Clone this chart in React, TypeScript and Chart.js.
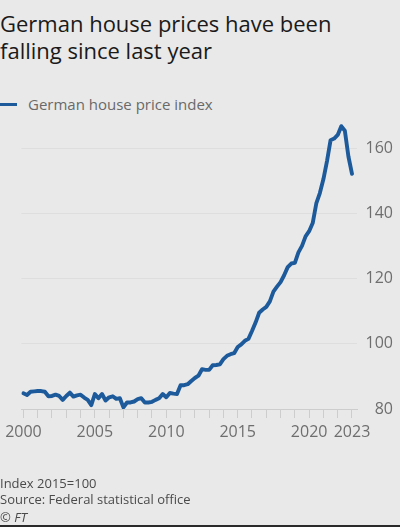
import React, { useEffect, useRef } from "react";
import { Chart, registerables } from "chart.js";

Chart.register(...registerables);

const startYear = 2000;
// Quarterly German house price index (2015=100), 2000 Q1 .. 2023 Q1
const houseIndex = [
  84.8, 84.3, 85.3, 85.4,
  85.5, 85.5, 85.3, 83.9,
  84.0, 84.4, 84.0, 82.8,
  84.0, 85.0, 83.8, 84.2,
  84.4, 83.5, 82.8, 81.2,
  84.6, 83.3, 84.6, 82.6,
  83.6, 83.9, 83.1, 83.3,
  80.5, 82.0, 82.0, 82.3,
  83.0, 83.3, 82.0, 82.0,
  82.2, 82.8, 83.3, 84.6,
  83.6, 84.9, 84.7, 84.6,
  87.3, 87.3, 87.6, 88.6,
  89.5, 90.2, 92.2, 92.0,
  92.0, 93.4, 93.5, 93.7,
  95.3, 96.3, 96.8, 97.1,
  99.0, 99.8, 100.9, 101.5,
  103.9, 106.5, 109.5, 110.5,
  111.3, 113.0, 116.0, 117.5,
  118.9, 121.0, 123.5, 124.6,
  124.8, 128.0, 130.0, 132.9,
  134.5, 137.0, 143.0, 146.2,
  150.5, 156.0, 162.4, 162.9,
  164.0, 166.7, 165.3, 157.4,
  152.1,
];
const yearTicks = [
  2000, 2001, 2002, 2003, 2004, 2005, 2006, 2007, 2008, 2009, 2010, 2011,
  2012, 2013, 2014, 2015, 2016, 2017, 2018, 2019, 2020, 2021, 2022, 2023,
];
const labelYears = [2000, 2005, 2010, 2015, 2020, 2023];
const yTicks = [80, 100, 120, 140, 160];

const FONT = "'Open Sans', 'Noto Sans', sans-serif";
const BLUE = "#1d5a9b";
const AXIS_GRAY = "#6e6e6e";

export default function App() {
  const ref = useRef<HTMLCanvasElement | null>(null);

  useEffect(() => {
    document.body.style.margin = "0";
    const canvas = ref.current;
    if (!canvas) return;
    const points = houseIndex.map((v, i) => ({ x: startYear + i / 4, y: v }));
    const chart = new Chart(canvas, {
      type: "line",
      data: {
        datasets: [
          {
            label: "German house price index",
            data: points,
            borderColor: BLUE,
            borderWidth: 3.9,
            pointRadius: 0,
            tension: 0,
            borderJoinStyle: "round",
            borderCapStyle: "round",
            fill: false,
          },
        ],
      },
      options: {
        animation: false,
        responsive: false,
        maintainAspectRatio: false,
        layout: { padding: { left: 20, right: 7, top: 115.4, bottom: 78 } },
        plugins: { legend: { display: false }, tooltip: { enabled: false } },
        scales: {
          x: {
            type: "linear",
            min: 1999.85,
            max: 2023.35,
            afterBuildTicks: (s: any) => {
              s.ticks = yearTicks.map((v) => ({ value: v }));
            },
            afterFit: (s: any) => {
              s.height = 40;
            },
            grid: {
              drawOnChartArea: false,
              drawTicks: true,
              tickLength: 9,
              color: "#cdcdcd",
              lineWidth: 1,
            },
            border: { display: true, color: "#cdcdcd", width: 1 },
            ticks: {
              autoSkip: false,
              maxRotation: 0,
              minRotation: 0,
              padding: 5,
              color: AXIS_GRAY,
              font: { family: FONT, size: 16 },
              callback: (v: any) => (labelYears.includes(Number(v)) ? String(v) : ""),
            },
          },
          y: {
            position: "right",
            min: 80,
            max: 170,
            afterBuildTicks: (s: any) => {
              s.ticks = yTicks.map((v) => ({ value: v }));
            },
            afterFit: (s: any) => {
              s.width = 36;
            },
            grid: { color: "#dedede", drawTicks: false, lineWidth: 1 },
            border: { display: false },
            ticks: {
              crossAlign: "far",
              padding: 8,
              color: AXIS_GRAY,
              font: { family: FONT, size: 16 },
            },
          },
        },
      },
    } as any);
    return () => chart.destroy();
  }, []);

  const textBase: React.CSSProperties = {
    position: "absolute",
    left: 0,
    whiteSpace: "nowrap",
    fontFamily: FONT,
  };

  return (
    <div
      style={{
        position: "relative",
        width: 400,
        height: 527,
        background: "#e9e9e9",
        overflow: "hidden",
      }}
    >
      <div
        style={{
          ...textBase,
          top: 10,
          fontSize: 22,
          lineHeight: "27px",
          color: "#1a1a1a",
        }}
      >
        German house prices have been
        <br />
        falling since last year
      </div>
      <div
        style={{
          position: "absolute",
          left: 0,
          top: 102.5,
          width: 17,
          height: 3,
          background: BLUE,
        }}
      />
      <div
        style={{
          ...textBase,
          left: 28,
          top: 94,
          fontSize: 15,
          lineHeight: "20px",
          color: "#6a6a6a",
        }}
      >
        German house price index
      </div>
      <canvas
        ref={ref}
        width={400}
        height={527}
        style={{ position: "absolute", left: 0, top: 0, width: 400, height: 527 }}
      />
      <div style={{ ...textBase, top: 475, fontSize: 13, lineHeight: "16px", color: "#4a4a4a" }}>
        Index 2015=100
      </div>
      <div style={{ ...textBase, top: 491, fontSize: 13, lineHeight: "16px", color: "#4a4a4a" }}>
        Source: Federal statistical office
      </div>
      <div
        style={{
          ...textBase,
          top: 509,
          fontSize: 13,
          lineHeight: "16px",
          color: "#4a4a4a",
          fontStyle: "italic",
        }}
      >
        © FT
      </div>
      <div
        style={{
          position: "absolute",
          left: 0,
          bottom: 0,
          width: 400,
          height: 2,
          background: "#2a2a2a",
        }}
      />
    </div>
  );
}
